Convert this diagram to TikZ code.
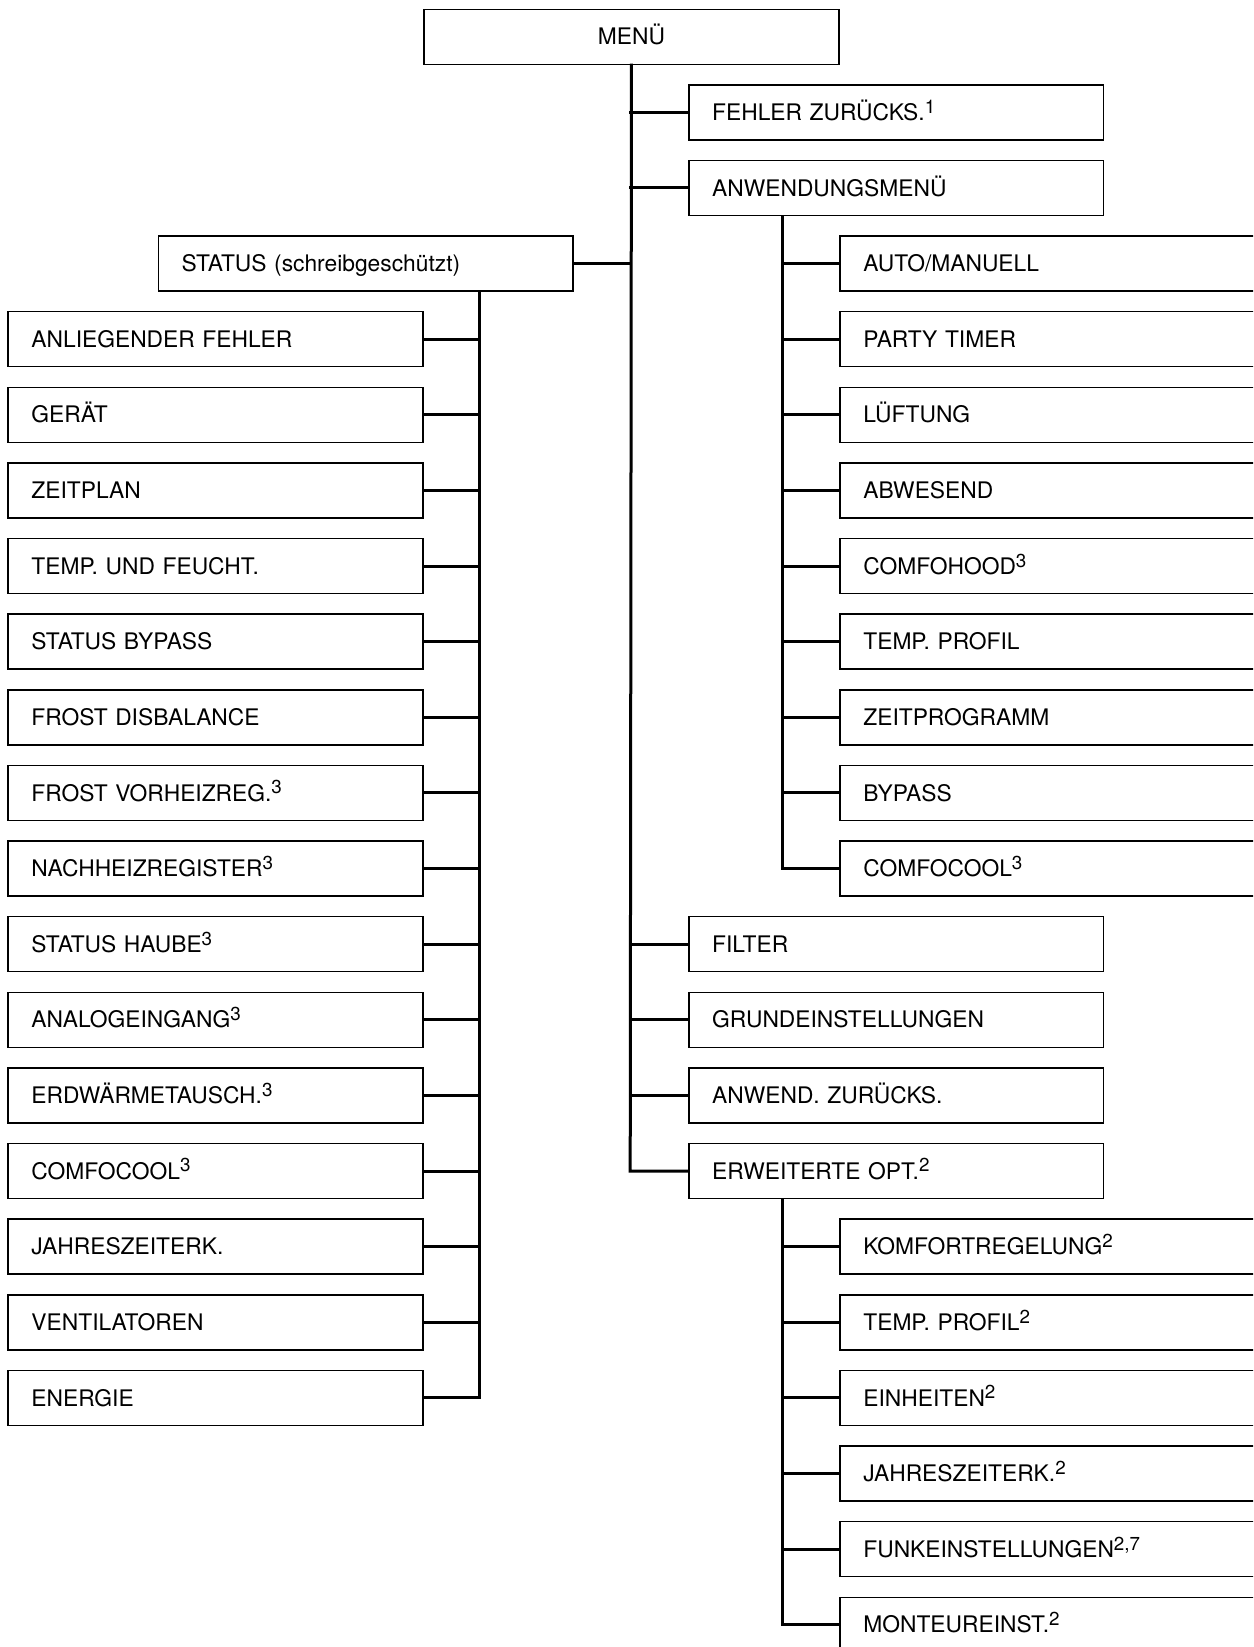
\documentclass[tikz,border=0pt]{standalone}
\usepackage{fontspec}
\setmainfont{TeX Gyre Heros}
\newcommand\fnote[1]{\raisebox{3.6pt}{\fontsize{9.4}{10}\selectfont #1}}
\tikzset{
  x=0.5pt, y=-0.5pt,
  box/.style={draw=black, line width=0.75pt, rectangle, anchor=west,
    minimum height=27.5pt, text width=184pt, inner xsep=11.7pt, inner ysep=0pt,
    text height=8.1pt, text depth=0pt,
    align=left, font=\fontsize{11.4}{13.7}\selectfont},
  topbox/.style={box, align=center},
  conn/.style={draw=black, line width=1.5pt, line join=miter, line cap=rect},
}
\begin{document}
\begin{tikzpicture}
\useasboundingbox (0,0) rectangle (1253,1647);
\clip (0,0) rectangle (1253,1647);
\fill[white] (0,0) rectangle (1253,1647);
% helper coordinates for trunks
\coordinate (mt) at (630.2,0);
\coordinate (lt) at (479,0);
\coordinate (st) at (782.5,0);
% row centers: 36.76 + 75.62 k
\node[topbox] (menu) at (423.3,36.76) {MENÜ};
\node[box] (fz)  at (688,112.38) {FEHLER ZURÜCKS.\fnote{1}};
\node[box] (anw) at (688,188.00) {ANWENDUNGSMENÜ};
\node[box] (stat) at (157.5,263.62) {STATUS (schreibgeschützt)};
% left column
\node[box] (l4)  at (7.3,339.24) {ANLIEGENDER FEHLER};
\node[box] (l5)  at (7.3,414.86) {GERÄT};
\node[box] (l6)  at (7.3,490.48) {ZEITPLAN};
\node[box] (l7)  at (7.3,566.10) {TEMP. UND FEUCHT.};
\node[box] (l8)  at (7.3,641.72) {STATUS BYPASS};
\node[box] (l9)  at (7.3,717.34) {FROST DISBALANCE};
\node[box] (l10) at (7.3,792.96) {FROST VORHEIZREG.\fnote{3}};
\node[box] (l11) at (7.3,868.58) {NACHHEIZREGISTER\fnote{3}};
\node[box] (l12) at (7.3,944.20) {STATUS HAUBE\fnote{3}};
\node[box] (l13) at (7.3,1019.82) {ANALOGEINGANG\fnote{3}};
\node[box] (l14) at (7.3,1095.44) {ERDWÄRMETAUSCH.\fnote{3}};
\node[box] (l15) at (7.3,1171.06) {COMFOCOOL\fnote{3}};
\node[box] (l16) at (7.3,1246.68) {JAHRESZEITERK.};
\node[box] (l17) at (7.3,1322.30) {VENTILATOREN};
\node[box] (l18) at (7.3,1397.92) {ENERGIE};
% Anwendungsmenue sub column
\node[box] (a3)  at (839.2,263.62) {AUTO/MANUELL};
\node[box] (a4)  at (839.2,339.24) {PARTY TIMER};
\node[box] (a5)  at (839.2,414.86) {LÜFTUNG};
\node[box] (a6)  at (839.2,490.48) {ABWESEND};
\node[box] (a7)  at (839.2,566.10) {COMFOHOOD\fnote{3}};
\node[box] (a8)  at (839.2,641.72) {TEMP. PROFIL};
\node[box] (a9)  at (839.2,717.34) {ZEITPROGRAMM};
\node[box] (a10) at (839.2,792.96) {BYPASS};
\node[box] (a11) at (839.2,868.58) {COMFOCOOL\fnote{3}};
% main column continued
\node[box] (fil) at (688,944.20) {FILTER};
\node[box] (gru) at (688,1019.82) {GRUNDEINSTELLUNGEN};
\node[box] (awz) at (688,1095.44) {ANWEND. ZURÜCKS.};
\node[box] (erw) at (688,1171.06) {ERWEITERTE OPT.\fnote{2}};
% erweiterte sub column
\node[box] (e16) at (839.2,1246.68) {KOMFORTREGELUNG\fnote{2}};
\node[box] (e17) at (839.2,1322.30) {TEMP. PROFIL\fnote{2}};
\node[box] (e18) at (839.2,1397.92) {EINHEITEN\fnote{2}};
\node[box] (e19) at (839.2,1473.54) {JAHRESZEITERK.\fnote{2}};
\node[box] (e20) at (839.2,1549.16) {FUNKEINSTELLUNGEN\fnote{2,7}};
\node[box] (e21) at (839.2,1624.78) {MONTEUREINST.\fnote{2}};
% main trunk
\draw[conn] (menu.south) -- (mt |- erw.west) -- (erw.west);
\foreach \n in {fz,anw,fil,gru,awz}
  \draw[conn] (mt |- \n.west) -- (\n.west);
\draw[conn] (stat.east) -- (mt |- stat.east);
% status trunk
\draw[conn] (lt |- stat.south) -- (lt |- l18.east) -- (l18.east);
\foreach \n in {l4,l5,l6,l7,l8,l9,l10,l11,l12,l13,l14,l15,l16,l17}
  \draw[conn] (lt |- \n.east) -- (\n.east);
% anwendungsmenue trunk
\draw[conn] (st |- anw.south) -- (st |- a11.west) -- (a11.west);
\foreach \n in {a3,a4,a5,a6,a7,a8,a9,a10}
  \draw[conn] (st |- \n.west) -- (\n.west);
% erweiterte trunk
\draw[conn] (st |- erw.south) -- (st |- e21.west) -- (e21.west);
\foreach \n in {e16,e17,e18,e19,e20}
  \draw[conn] (st |- \n.west) -- (\n.west);
\end{tikzpicture}
\end{document}
